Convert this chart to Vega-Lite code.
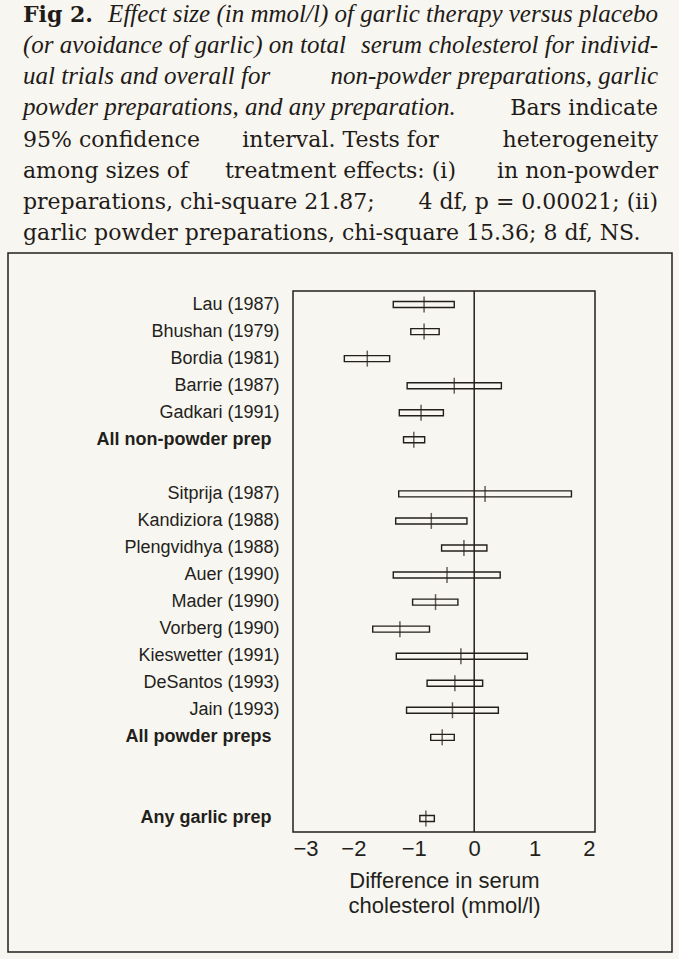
{
  "$schema": "https://vega.github.io/schema/vega-lite/v6.json",
  "background": "#f8f6f0",
  "padding": {"left": 7, "top": 0, "right": 8, "bottom": 7},
  "bounds": "flush",
  "spacing": 0,
  "config": {"view": {"stroke": null}, "font": "Liberation Sans"},
  "datasets": {
    "capBold": [{"line": 1, "text": "Fig 2."}],
    "capItalicStart": [
      {"line": 2, "text": "(or avoidance of garlic) on total"},
      {"line": 3, "text": "ual trials and overall for"},
      {"line": 4, "text": "powder preparations, and any preparation."}
    ],
    "capItalicEnd": [
      {"line": 1, "text": "Effect size (in mmol/l) of garlic therapy versus placebo"},
      {"line": 2, "text": "serum cholesterol for individ-"},
      {"line": 3, "text": "non-powder preparations, garlic"}
    ],
    "capRomanStart": [
      {"line": 5, "text": "95% confidence"},
      {"line": 6, "text": "among sizes of"},
      {"line": 7, "text": "preparations, chi-square 21.87;"},
      {"line": 8, "text": "garlic powder preparations, chi-square 15.36; 8 df, NS."}
    ],
    "capRomanMiddle": [
      {"line": 5, "text": "interval. Tests for"},
      {"line": 6, "text": "treatment effects: (i)"}
    ],
    "capRomanEnd": [
      {"line": 4, "text": "Bars indicate"},
      {"line": 5, "text": "heterogeneity"},
      {"line": 6, "text": "in non-powder"},
      {"line": 7, "text": "4 df, p = 0.00021; (ii)"}
    ],
    "trials": [
      {"study": "Lau (1987)", "est": -0.83, "lo": -1.34, "hi": -0.33},
      {"study": "Bhushan (1979)", "est": -0.83, "lo": -1.05, "hi": -0.58},
      {"study": "Bordia (1981)", "est": -1.77, "lo": -2.15, "hi": -1.4},
      {"study": "Barrie (1987)", "est": -0.33, "lo": -1.11, "hi": 0.45},
      {"study": "Gadkari (1991)", "est": -0.88, "lo": -1.24, "hi": -0.51},
      {"study": "All non-powder prep", "est": -1.0, "lo": -1.17, "hi": -0.82},
      {"study": "Sitprija (1987)", "est": 0.18, "lo": -1.25, "hi": 1.61},
      {"study": "Kandiziora (1988)", "est": -0.71, "lo": -1.3, "hi": -0.12},
      {"study": "Plengvidhya (1988)", "est": -0.17, "lo": -0.54, "hi": 0.21},
      {"study": "Auer (1990)", "est": -0.45, "lo": -1.34, "hi": 0.43},
      {"study": "Mader (1990)", "est": -0.64, "lo": -1.02, "hi": -0.27},
      {"study": "Vorberg (1990)", "est": -1.23, "lo": -1.68, "hi": -0.74},
      {"study": "Kieswetter (1991)", "est": -0.22, "lo": -1.29, "hi": 0.88},
      {"study": "DeSantos (1993)", "est": -0.32, "lo": -0.78, "hi": 0.14},
      {"study": "Jain (1993)", "est": -0.36, "lo": -1.12, "hi": 0.4},
      {"study": "All powder preps", "est": -0.53, "lo": -0.72, "hi": -0.33},
      {"study": "Any garlic prep", "est": -0.8, "lo": -0.9, "hi": -0.66}
    ]
  },
  "vconcat": [
    {
      "width": 664,
      "height": 253,
      "encoding": {
        "y": {"field": "line", "type": "quantitative", "scale": {"domain": [1, 8], "range": [22, 240], "nice": false, "zero": false}, "axis": null},
        "text": {"field": "text"}
      },
      "layer": [
        {
          "data": {"name": "capBold"},
          "mark": {"type": "text", "align": "left", "baseline": "alphabetic", "font": "DejaVu Serif", "fontSize": 22, "fontWeight": "bold", "color": "#1f1b18"},
          "encoding": {"x": {"datum": 0, "type": "quantitative", "scale": {"domain": [0, 1], "range": [15, 650], "nice": false, "zero": false}, "axis": null}}
        },
        {
          "data": {"name": "capItalicStart"},
          "mark": {"type": "text", "align": "left", "baseline": "alphabetic", "font": "Liberation Serif", "fontSize": 25, "fontStyle": "italic", "color": "#1f1b18"},
          "encoding": {"x": {"datum": 0, "type": "quantitative", "scale": {"domain": [0, 1], "range": [15, 650], "nice": false, "zero": false}, "axis": null}}
        },
        {
          "data": {"name": "capItalicEnd"},
          "mark": {"type": "text", "align": "right", "baseline": "alphabetic", "font": "Liberation Serif", "fontSize": 25, "fontStyle": "italic", "color": "#1f1b18"},
          "encoding": {"x": {"datum": 1, "type": "quantitative", "scale": {"domain": [0, 1], "range": [15, 650], "nice": false, "zero": false}, "axis": null}}
        },
        {
          "data": {"name": "capRomanStart"},
          "mark": {"type": "text", "align": "left", "baseline": "alphabetic", "font": "DejaVu Serif", "fontSize": 22, "color": "#1f1b18"},
          "encoding": {"x": {"datum": 0, "type": "quantitative", "scale": {"domain": [0, 1], "range": [15, 650], "nice": false, "zero": false}, "axis": null}}
        },
        {
          "data": {"name": "capRomanMiddle"},
          "mark": {"type": "text", "align": "center", "baseline": "alphabetic", "font": "DejaVu Serif", "fontSize": 22, "color": "#1f1b18"},
          "encoding": {"x": {"datum": 0.5, "type": "quantitative", "scale": {"domain": [0, 1], "range": [15, 650], "nice": false, "zero": false}, "axis": null}}
        },
        {
          "data": {"name": "capRomanEnd"},
          "mark": {"type": "text", "align": "right", "baseline": "alphabetic", "font": "DejaVu Serif", "fontSize": 22, "color": "#1f1b18"},
          "encoding": {"x": {"datum": 1, "type": "quantitative", "scale": {"domain": [0, 1], "range": [15, 650], "nice": false, "zero": false}, "axis": null}}
        }
      ]
    },
    {
      "width": 664,
      "height": 699,
      "view": {"stroke": "#231f1c", "strokeWidth": 1.5},
      "resolve": {"scale": {"y": "independent"}, "axis": {"y": "independent"}},
      "layer": [
        {
          "data": {"values": [{"part": "frame"}]},
          "mark": {"type": "rect", "fillOpacity": 0, "stroke": "#231f1c", "strokeWidth": 1.5},
          "encoding": {
            "x": {
              "datum": -3, "type": "quantitative",
              "scale": {"domain": [-3, 2], "range": [285, 587], "nice": false, "zero": false},
              "axis": {
                "orient": "bottom", "offset": -120, "values": [-3, -2, -1, 0, 1, 2],
                "domain": false, "ticks": false, "grid": false,
                "labelFontSize": 22, "labelPadding": 6, "labelColor": "#231f1c", "labelFont": "Liberation Sans",
                "title": ["Difference in serum", "cholesterol (mmol/l)"],
                "titleFontSize": 22, "titleFontWeight": "normal", "titleLineHeight": 25, "titlePadding": 11,
                "titleColor": "#231f1c", "titleFont": "Liberation Sans"
              }
            },
            "x2": {"datum": 2},
            "y": {"datum": 0, "type": "quantitative", "scale": {"domain": [0, 1], "range": [38, 579], "nice": false, "zero": false}, "axis": null},
            "y2": {"datum": 1}
          }
        },
        {
          "data": {"values": [{"part": "zero"}]},
          "mark": {"type": "rule", "color": "#231f1c", "strokeWidth": 1.5},
          "encoding": {
            "x": {
              "datum": 0, "type": "quantitative",
              "scale": {"domain": [-3, 2], "range": [285, 587], "nice": false, "zero": false},
              "axis": {
                "orient": "bottom", "offset": -120, "values": [-3, -2, -1, 0, 1, 2],
                "domain": false, "ticks": false, "grid": false,
                "labelFontSize": 22, "labelPadding": 6, "labelColor": "#231f1c", "labelFont": "Liberation Sans",
                "title": ["Difference in serum", "cholesterol (mmol/l)"],
                "titleFontSize": 22, "titleFontWeight": "normal", "titleLineHeight": 25, "titlePadding": 11,
                "titleColor": "#231f1c", "titleFont": "Liberation Sans"
              }
            },
            "y": {"datum": 0, "type": "quantitative", "scale": {"domain": [0, 1], "range": [38, 579], "nice": false, "zero": false}, "axis": null},
            "y2": {"datum": 1}
          }
        },
        {
          "data": {"name": "trials"},
          "mark": {"type": "bar", "size": 6, "fillOpacity": 0, "stroke": "#231f1c", "strokeWidth": 1.4},
          "encoding": {
            "x": {
              "field": "lo", "type": "quantitative",
              "scale": {"domain": [-3, 2], "range": [285, 587], "nice": false, "zero": false},
              "axis": {
                "orient": "bottom", "offset": -120, "values": [-3, -2, -1, 0, 1, 2],
                "domain": false, "ticks": false, "grid": false,
                "labelFontSize": 22, "labelPadding": 6, "labelColor": "#231f1c", "labelFont": "Liberation Sans",
                "title": ["Difference in serum", "cholesterol (mmol/l)"],
                "titleFontSize": 22, "titleFontWeight": "normal", "titleLineHeight": 25, "titlePadding": 11,
                "titleColor": "#231f1c", "titleFont": "Liberation Sans"
              }
            },
            "x2": {"field": "hi"},
            "y": {
              "field": "study", "type": "nominal",
              "scale": {
                "type": "band",
                "domain": ["Lau (1987)", "Bhushan (1979)", "Bordia (1981)", "Barrie (1987)", "Gadkari (1991)", "All non-powder prep", "gap1", "Sitprija (1987)", "Kandiziora (1988)", "Plengvidhya (1988)", "Auer (1990)", "Mader (1990)", "Vorberg (1990)", "Kieswetter (1991)", "DeSantos (1993)", "Jain (1993)", "All powder preps", "gap2", "gap3", "Any garlic prep"],
                "range": [38, 579], "paddingInner": 0, "paddingOuter": 0
              },
              "axis": {
                "orient": "left", "offset": -285, "domain": false, "ticks": false, "grid": false, "title": null,
                "values": ["Lau (1987)", "Bhushan (1979)", "Bordia (1981)", "Barrie (1987)", "Gadkari (1991)", "All non-powder prep", "Sitprija (1987)", "Kandiziora (1988)", "Plengvidhya (1988)", "Auer (1990)", "Mader (1990)", "Vorberg (1990)", "Kieswetter (1991)", "DeSantos (1993)", "Jain (1993)", "All powder preps", "Any garlic prep"],
                "labelFontSize": 18, "labelColor": "#231f1c", "labelFont": "Liberation Sans", "labelLimit": 0,
                "labelFontWeight": {"condition": {"test": "indexof(datum.value, 'All') == 0 || indexof(datum.value, 'Any') == 0", "value": "bold"}, "value": "normal"},
                "labelPadding": {"condition": {"test": "indexof(datum.value, 'All') == 0 || indexof(datum.value, 'Any') == 0", "value": 22}, "value": 14}
              }
            }
          }
        },
        {
          "data": {"name": "trials"},
          "mark": {"type": "tick", "size": 16, "thickness": 1.5, "color": "#231f1c"},
          "encoding": {
            "x": {
              "field": "est", "type": "quantitative",
              "scale": {"domain": [-3, 2], "range": [285, 587], "nice": false, "zero": false},
              "axis": {
                "orient": "bottom", "offset": -120, "values": [-3, -2, -1, 0, 1, 2],
                "domain": false, "ticks": false, "grid": false,
                "labelFontSize": 22, "labelPadding": 6, "labelColor": "#231f1c", "labelFont": "Liberation Sans",
                "title": ["Difference in serum", "cholesterol (mmol/l)"],
                "titleFontSize": 22, "titleFontWeight": "normal", "titleLineHeight": 25, "titlePadding": 11,
                "titleColor": "#231f1c", "titleFont": "Liberation Sans"
              }
            },
            "y": {
              "field": "study", "type": "nominal",
              "scale": {
                "type": "band",
                "domain": ["Lau (1987)", "Bhushan (1979)", "Bordia (1981)", "Barrie (1987)", "Gadkari (1991)", "All non-powder prep", "gap1", "Sitprija (1987)", "Kandiziora (1988)", "Plengvidhya (1988)", "Auer (1990)", "Mader (1990)", "Vorberg (1990)", "Kieswetter (1991)", "DeSantos (1993)", "Jain (1993)", "All powder preps", "gap2", "gap3", "Any garlic prep"],
                "range": [38, 579], "paddingInner": 0, "paddingOuter": 0
              },
              "axis": null
            }
          }
        }
      ]
    }
  ]
}
